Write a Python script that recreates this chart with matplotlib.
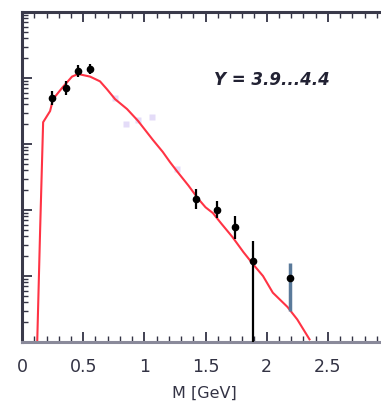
import numpy as np
import matplotlib.pyplot as plt
from matplotlib.ticker import MultipleLocator, LogLocator, NullFormatter

# model curve (red line)
curve_m = [0.123, 0.147, 0.172, 0.229, 0.253, 0.327, 0.408, 0.458, 0.556, 0.637,
           0.694, 0.76, 0.858, 0.948, 1.07, 1.15, 1.21, 1.27, 1.36, 1.44,
           1.50, 1.56, 1.63, 1.72, 1.81, 1.89, 1.97, 2.05, 2.17, 2.25, 2.35]
curve_y = [0.9, 47, 2140, 3160, 4790, 7080, 10500, 11500, 10500, 8900,
           6760, 4790, 3390, 2240, 1150, 760, 530, 380, 235, 148,
           110, 90, 62, 39, 23, 15, 10, 5.6, 3.4, 2.2, 1.1]

# measured points
pt_m = [0.245, 0.36, 0.46, 0.555, 1.42, 1.59, 1.74, 1.89, 2.19]
pt_y = [5000, 7100, 12900, 13800, 148, 100, 55, 17, 9.3]
pt_lo = [3900, 5600, 10500, 11500, 105, 75, 37, 0.1, 2.95]
pt_hi = [6300, 8900, 15500, 16500, 205, 135, 80, 34, 15.8]

# faint points
faint_m = [0.76, 0.85, 0.95, 1.06, 1.27]
faint_y = [5000, 2000, 2300, 2600, 420]

fig = plt.figure(figsize=(3.81, 4.06), dpi=100)
ax = fig.add_axes([0.058, 0.155, 0.963, 0.813])

ax.plot(curve_m, curve_y, color='#ff3344', lw=1.5, zorder=2)
ax.plot(faint_m, faint_y, 's', ms=4, color='#e4dcf8', mec='none', zorder=1)

yerr = [np.array(pt_y) - np.array(pt_lo), np.array(pt_hi) - np.array(pt_y)]
ax.errorbar(pt_m[:8], pt_y[:8], yerr=[yerr[0][:8], yerr[1][:8]], xerr=0.02,
            fmt='o', ms=4.5, color='black', ecolor='black', elinewidth=1.6,
            capsize=0, zorder=3)
ax.errorbar(pt_m[8:], pt_y[8:], yerr=[yerr[0][8:], yerr[1][8:]], xerr=0.02,
            fmt='o', ms=4.5, color='black', ecolor='#5a7a9a', elinewidth=2.5,
            capsize=0, zorder=3)

ax.set_yscale('log')
ax.set_xlim(0, 3.0)
ax.set_ylim(1, 1e5)

ax.xaxis.set_minor_locator(MultipleLocator(0.1))
ax.set_xticks([0, 0.5, 1, 1.5, 2, 2.5])
ax.set_xticklabels(['0', '0.5', '1', '1.5', '2', '2.5'])
ax.yaxis.set_major_locator(LogLocator(base=10))
ax.yaxis.set_minor_locator(LogLocator(base=10, subs=np.arange(2, 10)))
ax.yaxis.set_major_formatter(NullFormatter())
ax.yaxis.set_minor_formatter(NullFormatter())

ax.tick_params(which='both', direction='in', top=True, right=False,
               colors='#333344', labelcolor='#333344')
ax.tick_params(which='major', length=7, width=1.3, labelsize=12.5, pad=11)
ax.tick_params(which='minor', length=4, width=1.0)

for side in ['left', 'top']:
    ax.spines[side].set_linewidth(2.2)
    ax.spines[side].set_color('#3a3a4a')
ax.spines['bottom'].set_linewidth(2.2)
ax.spines['bottom'].set_color('#8a8a9a')
ax.spines['right'].set_visible(False)

ax.text(2.04, 9600, 'Y = 3.9...4.4', fontsize=12, fontweight='bold',
        fontstyle='italic', ha='center', va='center', color='#222233')

ax.set_xlabel('M [GeV]', fontsize=11.5, color='#333344')
# keep the label centred on the visible part of the axes
ax.xaxis.set_label_coords(0.497, -0.128)

fig.savefig('out.png', dpi=100)
